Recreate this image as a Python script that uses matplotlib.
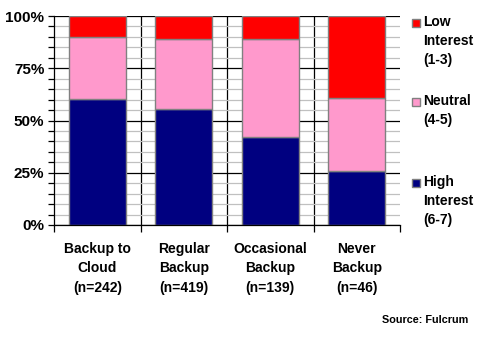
import matplotlib
matplotlib.use("Agg")
import matplotlib.pyplot as plt
from matplotlib.patches import Rectangle
from matplotlib.ticker import MultipleLocator, FixedLocator

plt.rcParams['font.family'] = ['Liberation Sans', 'DejaVu Sans']

categories = ["Backup to\nCloud\n(n=242)", "Regular\nBackup\n(n=419)",
              "Occasional\nBackup\n(n=139)", "Never\nBackup\n(n=46)"]
high = [60.5, 55.4, 42.0, 25.6]
neutral = [29.5, 33.6, 47.0, 35.1]
low = [10.0, 11.0, 11.0, 39.3]
series_labels = ["High\nInterest\n(6-7)", "Neutral\n(4-5)", "Low\nInterest\n(1-3)"]
colors = ["#000080", "#FF99CC", "#FF0000"]
yticks = [0, 25, 50, 75, 100]

W, H = 480, 340
fig = plt.figure(figsize=(W / 100, H / 100), dpi=100)
ax = fig.add_axes([54 / W, 1 - 225 / H, (400 - 54) / W, (225 - 16) / H])

def px(x, y):
    return x / W, 1 - y / H

x = list(range(len(categories)))
bottom2 = [h + n for h, n in zip(high, neutral)]
for vals, bot, c in [(high, None, colors[0]), (neutral, high, colors[1]), (low, bottom2, colors[2])]:
    ax.bar(x, vals, bottom=bot, width=0.66, color=c, edgecolor="#808080", linewidth=1, zorder=3)

ax.set_xlim(-0.5, 3.5)
ax.set_ylim(0, 100)

# y grid: light gray every 5%, black every 25%
ax.yaxis.set_major_locator(FixedLocator(yticks))
ax.yaxis.set_minor_locator(MultipleLocator(5))
ax.set_yticklabels([f"{v}%" for v in yticks], fontsize=11, fontweight="bold")
ax.grid(axis="y", which="minor", color="#C0C0C0", linewidth=0.9, zorder=0)
ax.grid(axis="y", which="major", color="black", linewidth=0.9, zorder=1)
ax.tick_params(axis="y", which="both", length=4, width=0.9, color="black", pad=3)

# x: labels at centers, ticks at category boundaries
ax.set_xticks(x)
ax.set_xticklabels(categories, fontsize=10, fontweight="bold", linespacing=1.5)
ax.tick_params(axis="x", which="major", length=0, pad=12)
ax.xaxis.set_minor_locator(FixedLocator([-0.5, 0.5, 1.5, 2.5, 3.5]))
ax.tick_params(axis="x", which="minor", length=5, width=0.9, color="black")
for b in [0.5, 1.5, 2.5]:
    ax.axvline(b, color="black", linewidth=0.9, zorder=1)

for s in ["top", "right"]:
    ax.spines[s].set_visible(False)
for s in ["left", "bottom"]:
    ax.spines[s].set_linewidth(0.9)
    ax.spines[s].set_zorder(4)

# legend, top entry first
legend_items = [(series_labels[2], colors[2], 23), (series_labels[1], colors[1], 102),
                (series_labels[0], colors[0], 183)]
for label, c, ytop in legend_items:
    fig.add_artist(Rectangle(px(412, ytop + 4), 8 / W, 8 / H, transform=fig.transFigure,
                             facecolor=c, edgecolor="#808080", linewidth=1))
    fig.text(*px(423, ytop - 8), label, fontsize=10, fontweight="bold",
             va="top", ha="left", linespacing=1.45)

fig.text(*px(468, 320), "Source: Fulcrum", fontsize=7.8, fontweight="bold",
         ha="right", va="center")

fig.savefig("out.png", dpi=100)
